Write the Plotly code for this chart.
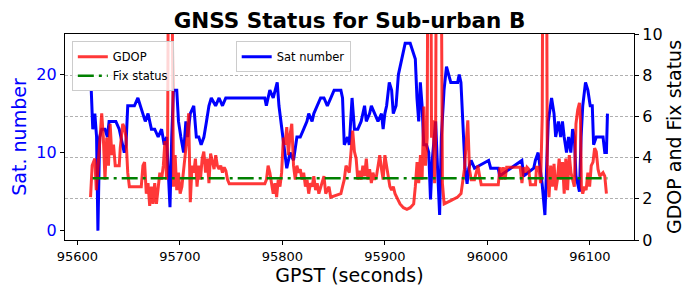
import plotly.graph_objects as go

# ---------------- data ----------------
sat_time = [95613.6, 95615.1, 95617.1, 95618.8, 95620.1, 95621.8, 95623.8, 95627.0, 95629.4, 95631.0,
            95634.4, 95637.6, 95640.9, 95642.6, 95645.8, 95647.5, 95649.2, 95652.5, 95655.7, 95659.1,
            95661.4, 95664.0, 95666.3, 95669.0, 95672.3, 95675.5, 95678.9, 95682.2, 95684.8, 95687.1,
            95688.8, 95690.4, 95692.1, 95693.8, 95697.0, 95698.7, 95701.0, 95703.7, 95705.9, 95707.6,
            95710.2, 95713.6, 95716.1, 95718.5, 95720.8, 95723.5, 95726.0, 95728.4, 95730.7, 95734.9,
            95738.3, 95741.6, 95744.8, 95782.9, 95784.4, 95787.8, 95791.1, 95795.0, 95796.7, 95799.3,
            95802.6, 95804.3, 95807.6, 95810.9, 95814.2, 95817.5, 95820.8, 95824.0, 95825.7, 95829.0,
            95830.7, 95834.0, 95837.3, 95840.6, 95843.9, 95847.3, 95850.5, 95857.1, 95858.7, 95860.4,
            95863.6, 95865.3, 95868.0, 95870.3, 95873.6, 95876.9, 95880.2, 95881.9, 95885.1, 95886.8,
            95890.1, 95893.3, 95896.7, 95898.3, 95900.0, 95901.7, 95904.3, 95906.6, 95908.2, 95910.9,
            95913.2, 95914.8, 95918.1, 95919.8, 95924.7, 95927.4, 95929.7, 95931.3, 95933.0, 95934.6,
            95936.3, 95937.9, 95940.6, 95942.8, 95944.5, 95946.2, 95949.5, 95951.7, 95953.4, 95955.1,
            95957.7, 95960.1, 95962.0, 95964.3, 95971.0, 95972.5, 95974.2, 95975.9, 95978.2, 95980.2,
            95981.8, 95984.1, 95987.4, 96001.2, 96003.2, 96010.5, 96012.0, 96033.6, 96035.3, 96045.2,
            96046.8, 96049.5, 96051.8, 96053.4, 96056.1, 96057.7, 96059.4, 96062.6, 96065.0, 96066.6,
            96069.3, 96071.5, 96073.2, 96074.9, 96077.2, 96079.2, 96081.4, 96083.1, 96084.8, 96086.4,
            96088.1, 96089.8, 96091.4, 96093.0, 96095.7, 96098.0, 96100.3, 96102.3, 96103.6, 96106.2,
            96112.8, 96114.5, 96116.1, 96117.1]
sat_number = [18, 13, 15, 12, 0, 12, 13, 13, 12, 14,
              14, 14, 13, 12, 10, 11, 16, 16, 16, 17,
              16, 15, 14, 15, 13, 13, 12, 13, 11, 12,
              8, 3, 12, 18, 18, 14, 12, 10, 14, 12,
              15, 16, 12, 12, 11, 12, 14, 16, 17, 16,
              17, 16, 17, 17, 16, 18, 17, 19, 16, 13,
              10, 8, 10, 9, 12, 12, 13, 14, 15, 14,
              15, 16, 17, 17, 16, 17, 18, 18, 17, 11,
              12, 11, 17, 13, 13, 14, 16, 14, 15, 16,
              15, 14, 15, 13, 15, 16, 19, 18, 15, 16,
              20, 21, 23, 24, 24, 23, 22, 17, 14, 19,
              16, 11, 11, 10, 4, 9, 14, 7, 2, 12,
              18, 21, 20, 19, 19, 20, 19, 14, 8, 6,
              8, 9, 8, 9, 8, 8, 7, 9, 7, 8,
              9, 10, 8, 6, 2, 7, 14, 17, 15, 12,
              14, 12, 14, 12, 10, 12, 10, 13, 12, 7,
              6, 5, 12, 16, 19, 18, 16, 16, 11, 12,
              12, 10, 10, 15]

gdop_time = [95612.9, 95614.5, 95617.1, 95618.5, 95620.1, 95622.1, 95623.8, 95625.4, 95627.0, 95628.7,
             95630.4, 95632.0, 95633.7, 95635.3, 95637.0, 95640.9, 95641.9, 95644.3, 95645.8, 95647.5,
             95649.2, 95650.8, 95662.4, 95664.0, 95665.6, 95667.3, 95669.0, 95670.6, 95672.3, 95673.9,
             95675.5, 95677.2, 95678.9, 95680.5, 95682.2, 95683.9, 95685.5, 95687.1, 95688.1, 95689.4,
             95691.4, 95693.1, 95693.8, 95695.4, 95697.0, 95698.7, 95700.3, 95702.0, 95703.7, 95705.2,
             95707.0, 95708.6, 95710.2, 95711.9, 95713.6, 95715.2, 95716.8, 95718.5, 95720.1, 95721.8,
             95723.4, 95725.1, 95726.7, 95728.4, 95730.0, 95731.7, 95733.4, 95735.0, 95736.6, 95738.3,
             95739.9, 95741.6, 95743.3, 95744.9, 95746.5, 95748.2, 95782.9, 95784.5, 95786.1, 95787.8,
             95789.4, 95791.1, 95792.8, 95794.4, 95796.0, 95797.7, 95799.3, 95801.0, 95802.6, 95804.3,
             95805.9, 95807.6, 95809.2, 95810.9, 95812.6, 95814.2, 95815.8, 95817.5, 95819.1, 95820.8,
             95822.5, 95824.1, 95825.7, 95827.4, 95829.0, 95830.7, 95832.4, 95834.0, 95835.6, 95837.3,
             95839.0, 95840.6, 95842.3, 95843.9, 95845.5, 95847.2, 95857.1, 95858.7, 95860.4, 95862.1,
             95865.3, 95867.0, 95868.6, 95870.3, 95872.0, 95873.6, 95875.2, 95876.9, 95878.5, 95880.2,
             95881.9, 95883.5, 95885.1, 95886.8, 95888.4, 95890.1, 95891.8, 95893.4, 95895.0, 95896.7,
             95898.3, 95900.0, 95901.7, 95903.3, 95904.9, 95906.6, 95908.2, 95909.9, 95911.6, 95913.2,
             95914.8, 95918.1, 95921.5, 95924.7, 95928.1, 95929.7, 95931.4, 95933.0, 95934.7, 95936.3,
             95938.0, 95939.6, 95941.3, 95942.2, 95944.5, 95945.5, 95947.2, 95948.5, 95949.5, 95950.5,
             95954.4, 95956.1, 95957.8, 95964.3, 95971.0, 95974.3, 95975.9, 95977.6, 95979.2, 95980.9,
             95982.5, 95984.2, 95987.4, 95989.1, 95990.8, 95992.4, 95994.0, 96010.6, 96012.2, 96013.9,
             96015.5, 96017.2, 96018.8, 96032.0, 96033.7, 96035.3, 96037.0, 96038.6, 96040.3, 96041.9,
             96046.9, 96047.9, 96050.2, 96051.9, 96053.5, 96054.4, 96057.4, 96058.4, 96060.1, 96061.7,
             96063.4, 96065.0, 96066.7, 96068.3, 96070.0, 96071.6, 96073.3, 96074.9, 96076.5, 96078.2,
             96079.9, 96081.5, 96083.1, 96084.8, 96086.4, 96088.1, 96089.8, 96090.8, 96091.7, 96093.0,
             96094.7, 96096.3, 96098.0, 96099.7, 96101.3, 96103.0, 96104.6, 96106.2, 96107.9, 96109.6,
             96112.8, 96114.5, 96116.1]
gdop = [2.08, 3.61, 3.95, 2.42, 3.44, 5.14, 6.15, 4.97, 2.93, 4.97,
        3.61, 5.64, 4.12, 4.63, 3.61, 3.61, 4.46, 5.64, 5.48, 4.97,
        3.27, 2.59, 2.59, 3.61, 3.78, 2.25, 2.76, 1.66, 2.59, 1.75,
        2.76, 1.75, 2.59, 3.27, 2.93, 3.61, 4.80, 2.93, 4.97, 20.0,
        20.0, 3.61, 2.59, 4.12, 2.42, 3.27, 2.25, 2.59, 3.27, 4.12,
        4.97, 6.15, 1.83, 3.61, 3.27, 3.95, 2.59, 3.61, 2.93, 3.95,
        4.29, 3.27, 3.95, 2.76, 4.20, 3.78, 3.44, 4.12, 3.61, 3.44,
        3.61, 3.27, 3.53, 3.36, 2.93, 2.73, 2.73, 2.93, 3.61, 3.27,
        2.76, 2.25, 2.76, 2.08, 2.93, 2.59, 3.27, 4.97, 4.63, 5.48,
        4.12, 5.14, 5.64, 3.61, 2.93, 3.61, 3.27, 3.44, 2.93, 3.27,
        2.59, 2.93, 2.25, 2.76, 2.59, 3.10, 2.42, 2.76, 2.25, 2.59,
        2.93, 3.10, 2.25, 2.42, 2.59, 2.08, 2.25, 2.59, 2.93, 3.61,
        3.27, 4.29, 5.31, 4.29, 3.95, 2.93, 3.36, 2.93, 3.61, 3.10,
        3.95, 2.93, 3.44, 2.76, 3.27, 2.93, 3.10, 3.61, 4.12, 3.44,
        2.93, 4.12, 3.61, 2.93, 2.59, 2.42, 2.59, 2.25, 2.08, 1.91,
        1.75, 1.57, 1.49, 1.57, 1.75, 2.59, 3.78, 2.76, 4.12, 2.93,
        6.48, 3.61, 4.97, 20.0, 20.0, 4.97, 5.81, 2.76, 4.97, 20.0,
        20.0, 2.76, 1.75, 1.91, 2.08, 2.25, 2.76, 3.44, 4.63, 5.81,
        3.44, 2.93, 2.93, 3.27, 3.61, 3.10, 2.68, 2.68, 3.53, 2.93,
        3.53, 2.93, 3.53, 3.53, 2.76, 3.53, 3.27, 3.53, 3.44, 2.68,
        2.68, 3.53, 3.53, 2.76, 6.00, 20.0, 20.0, 3.61, 2.08, 3.61,
        2.59, 3.70, 2.42, 2.93, 3.95, 2.93, 3.78, 2.25, 3.95, 2.42,
        4.12, 3.27, 2.93, 2.59, 5.64, 6.32, 6.66, 5.81, 2.59, 2.25,
        2.59, 2.42, 3.27, 2.59, 3.61, 3.78, 4.46, 4.29, 3.44, 3.10,
        3.27, 3.10, 2.25]

fix_time = [95615.0, 96117.0]
fix_status = [3, 3]

x_ticks = [95600, 95700, 95800, 95900, 96000, 96100]
sat_ticks = [0, 10, 20]
right_ticks = [0, 2, 4, 6, 8, 10]

# ---------------- figure ----------------
FONT = "DejaVu Sans"
fig = go.Figure()

fig.add_trace(go.Scatter(
    x=sat_time, y=sat_number, mode="lines", name="Sat number",
    line=dict(color="#0000ff", width=3), yaxis="y", legend="legend2"))

fig.add_trace(go.Scatter(
    x=gdop_time, y=gdop, mode="lines", name="GDOP",
    line=dict(color="rgba(255,0,0,0.78)", width=3), yaxis="y2", legend="legend"))

fig.add_trace(go.Scatter(
    x=fix_time, y=fix_status, mode="lines", name="Fix status",
    line=dict(color="#008000", width=2.5, dash="16px,5px,3px,5px"),
    yaxis="y2", legend="legend"))

# the page body adds an 8px offset; the figure is sized to fill the 690x290 window exactly
fig.update_layout(
    width=682, height=282,
    margin=dict(l=57, r=56, t=26, b=50, autoexpand=False),
    paper_bgcolor="white", plot_bgcolor="white",
    font=dict(family=FONT, color="black", size=13),
    title=dict(text="<b>GNSS Status for Sub-urban B</b>", x=0.5, xref="paper", xanchor="center",
               y=1 - 12 / 282, yref="container", yanchor="middle",
               font=dict(family=FONT, size=21.5, color="black")),
    xaxis=dict(range=[95588, 96143], tickvals=x_ticks, automargin=False,
               ticktext=[str(v) for v in x_ticks],
               showgrid=False, zeroline=False,
               showline=True, linecolor="black", linewidth=1.2, mirror=True,
               ticks="outside", ticklen=4, tickcolor="black",
               tickfont=dict(size=13, color="black"),
               title=dict(text="GPST (seconds)", font=dict(size=19, color="black"), standoff=4)),
    yaxis=dict(range=[-1.2, 25.2], tickvals=sat_ticks, automargin=False,
               showgrid=False, zeroline=False,
               showline=True, linecolor="black", linewidth=1.2,
               ticks="outside", ticklen=4, tickcolor="black",
               tickfont=dict(size=16, color="#0000ff"),
               title=dict(text="Sat. number", font=dict(size=19, color="#0000ff"), standoff=6)),
    yaxis2=dict(range=[0, 10], tickvals=right_ticks, overlaying="y", side="right", automargin=False,
                showgrid=True, gridcolor="rgba(150,150,150,0.75)", griddash="3px,2px", gridwidth=0.6,
                zeroline=False,
                showline=True, linecolor="black", linewidth=1.2,
                ticks="outside", ticklen=4, tickcolor="black",
                tickfont=dict(size=16, color="black"),
                title=dict(text="GDOP and Fix status", font=dict(size=19, color="black"), standoff=6)),
    legend=dict(x=0.012, y=0.965, xanchor="left", yanchor="top",
                bgcolor="rgba(255,255,255,0.8)", bordercolor="#cccccc", borderwidth=1,
                font=dict(size=11.5, color="black"), itemwidth=30, tracegroupgap=0),
    legend2=dict(x=0.30, y=0.965, xanchor="left", yanchor="top",
                 bgcolor="rgba(255,255,255,0.8)", bordercolor="#cccccc", borderwidth=1,
                 font=dict(size=11.5, color="black"), itemwidth=30),
    showlegend=True,
)

fig.write_html("out.html")
